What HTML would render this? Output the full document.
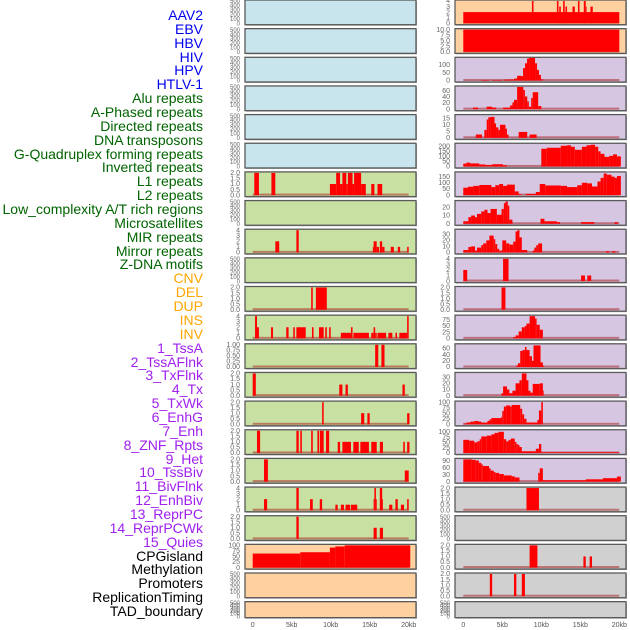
<!DOCTYPE html>
<html><head><meta charset="utf-8"><style>
html,body{margin:0;padding:0;background:#fff;}
#wrap{position:relative;width:630px;height:630px;overflow:hidden;}
.lab{position:absolute;right:427px;font-family:"Liberation Sans",sans-serif;font-size:14px;line-height:14px;white-space:nowrap;text-align:right;}
</style></head><body>
<div id="wrap">
<div id="labels"></div>
<svg id="chart" width="630" height="630" xmlns="http://www.w3.org/2000/svg" style="position:absolute;left:0;top:0"></svg>
</div>
<script>
// ---- data ----
const trackNames = ["AAV2","EBV","HBV","HIV","HPV","HTLV-1","Alu repeats","A-Phased repeats","Directed repeats","DNA transposons","G-Quadruplex forming repeats","Inverted repeats","L1 repeats","L2 repeats","Low_complexity A/T rich regions","Microsatellites","MIR repeats","Mirror repeats","Z-DNA motifs","CNV","DEL","DUP","INS","INV","1_TssA","2_TssAFlnk","3_TxFlnk","4_Tx","5_TxWk","6_EnhG","7_Enh","8_ZNF_Rpts","9_Het","10_TssBiv","11_BivFlnk","12_EnhBiv","13_ReprPC","14_ReprPCWk","15_Quies","CPGisland","Methylation","Promoters","ReplicationTiming","TAD_boundary"];
const trackGroups = [0,0,0,0,0,0,1,1,1,1,1,1,1,1,1,1,1,1,1,2,2,2,2,2,3,3,3,3,3,3,3,3,3,3,3,3,3,3,3,4,4,4,4,4];
const groupColors = ["#0000ee","#006400","#ffa500","#a020f0","#000000"];
const groupBg = ["#c8e4ec","#c8e0a2","#ffd0a0","#d6c6e2","#d0d0d0"];
const xTickLabels = ["0","5kb","10kb","15kb","20kb"];
const xTickValues = [0,5,10,15,20];

const T500 = ["0","100","200","300","400","500"];
const T2 = ["0.0","0.5","1.0","1.5","2.0"];
const T4 = ["0","1","2","3","4"];

// left column (22 panels): y-axis max, tick labels, segments [startKb,endKb,value]
const leftMax = [500,500,500,500,500,500,2,500,4,500,2,4,1,2,2,2,2,4,2,100,500,500];
const leftTicks = [T500,T500,T500,T500,T500,T500,T2,T500,T4,T500,T2,T4,["0.00","0.25","0.50","0.75","1.00"],T2,T2,T2,T2,T4,T2,["0","25","50","75","100"],T500,T500];
const leftSegs = [
 [],[],[],[],[],[],
 [[0.2,0.8,2],[2.4,2.9,2],[9.9,10.7,1],[10.7,11.2,2],[11.2,11.5,1],[11.5,12,2],[12,12.2,1],[12.2,12.8,2],[12.8,13,1],[13,13.5,2],[13.5,13.9,2],[13.9,14.5,1],[15.2,15.6,1],[16,16.6,1]],
 [],
 [[2.9,3.4,2],[5.6,5.9,4],[15.4,15.5,1],[15.5,15.9,2],[15.9,16.2,1],[16.3,16.6,2],[16.6,16.9,1],[17.7,18.1,1],[18.6,18.9,1],[19.8,20,1]],
 [],
 [[7.5,7.7,2],[8.1,9.5,2]],
 [[0.3,0.55,4],[0.55,0.8,2],[2.35,2.6,2],[4.3,4.6,2],[5.2,5.4,2],[5.6,6.8,2],[7.6,7.8,2],[8.5,9.1,2],[9.3,9.5,2],[9.8,10,2],[11.3,12.6,1],[12.6,12.8,2],[12.9,14.9,1],[15.2,15.5,1],[15.5,15.7,2],[15.7,15.9,1],[16,17.1,1],[17.4,17.9,1],[18.3,18.5,1],[18.8,19.8,1],[19.8,20,4]],
 [[15.7,16.1,1],[16.5,16.9,1]],
 [[0,0.4,2],[11.1,11.5,1],[11.9,12.2,1],[19.2,19.5,1]],
 [[8.9,9.1,2],[13.9,14.3,1],[14.7,15,1],[19.8,20.1,1]],
 [[0.55,0.95,2],[5.6,5.9,2],[6.1,6.3,2],[7.5,7.7,2],[8.3,8.5,2],[8.6,9.1,2],[9.4,9.8,2],[10.9,11.2,1],[11.5,12.6,1],[12.9,13.6,1],[13.8,14.9,1],[15.2,15.9,1],[16.3,16.7,1],[19.3,19.5,1],[19.8,20.1,1]],
 [[1.45,1.95,2],[19.5,20,1]],
 [[1.45,1.85,2],[5.6,5.9,4],[7.35,7.7,2],[8.6,8.9,2],[10.6,10.9,1],[11.3,11.7,1],[11.9,12.5,1],[12.6,13.4,1],[15.5,15.6,2],[15.6,15.8,4],[15.8,15.9,2],[16.3,16.6,4],[16.6,16.7,2],[17.5,17.9,1],[18.3,18.6,2],[19,19.4,1],[19.8,20,2]],
 [[5.6,5.9,2],[15.5,15.9,1],[16.3,16.7,1]],
 [[0,6.1,63],[6.1,9.9,69],[9.9,10.6,90],[10.6,11.8,95],[11.8,20.2,100]],
 [],[]
];

// right column (22 panels)
const rightMax = [4,10,142,72,17,220,180,27,37,4,2,90,72,36,100,105,97,2,500,2,2,500];
const rightTicks = [T4,["0.0","2.5","5.0","7.5","10.0"],["0","50","100"],["0","20","40","60"],["0","5","10","15"],["0","50","100","150","200"],["0","50","100","150"],["0","10","20"],["0","10","20","30"],T4,T2,["0","25","50","75"],["0","20","40","60"],["0","10","20","30"],["0","25","50","75","100"],["0","25","50","75","100"],["0","30","60","90"],T2,T500,T2,T2,T500];
const rightSegs = [
 [[0,20,2],[8.8,9,4],[12,12.2,4],[12.3,12.5,3],[12.8,13,4],[13.1,13.3,3],[14,14.3,3],[14.7,14.9,4],[15.45,15.7,4],[15.7,15.8,3],[16.3,16.6,3]],
 [[0,20,10]],
 [[2.3,3.3,3],[3.7,5,3],[5.2,5.5,5],[5.5,6.5,6],[6.5,6.9,12],[6.9,7.4,30],[7.4,7.66,28],[7.66,7.92,79],[7.92,8.17,110],[8.17,8.43,140],[8.43,9.2,145],[9.2,9.45,110],[9.45,9.7,68],[9.7,9.95,36],[9.95,10.2,8]],
 [[1.25,1.9,5],[3,3.7,8],[3.7,4.2,5],[5.1,6,5],[6,6.3,12],[6.3,6.5,22],[6.5,6.9,30],[6.9,7.7,72],[7.7,7.9,62],[7.9,8.2,41],[8.2,8.4,25],[8.4,8.7,8],[8.7,8.9,36],[8.9,9.6,55],[9.6,10,10]],
 [[1.6,2.4,2.5],[2.7,3,6],[3,3.2,14],[3.2,3.5,15.7],[3.5,4,16],[4,4.2,11],[4.2,4.5,8],[4.5,4.7,6],[4.7,5.4,10],[5.4,5.6,7],[5.6,5.8,2.5],[7.1,8.2,4.5],[8.5,9.4,2.5]],
 [[0,0.4,28],[0.4,0.9,38],[0.9,2.05,30],[2.05,2.8,20],[2.8,3.7,15],[3.7,5.1,22],[5.1,5.6,12],[10,10.7,175],[10.7,12.5,185],[12.5,13.3,205],[13.3,13.8,210],[13.8,14.3,195],[14.3,15.2,165],[15.2,15.8,195],[15.8,16.3,210],[16.3,16.9,215],[16.9,17.3,195],[17.3,17.6,150],[17.6,18.1,125],[18.1,18.7,95],[18.7,19.2,105],[19.2,19.7,120],[19.7,20.2,100]],
 [[0,0.6,60],[0.6,1.3,68],[1.3,2.05,75],[2.05,3.6,82],[3.6,4.1,65],[4.1,4.6,80],[4.6,5.1,90],[5.1,5.6,75],[5.6,6.6,85],[6.6,7.1,30],[7.1,7.4,8],[8,9.3,10],[9.3,9.8,25],[9.8,10.5,90],[10.5,12.5,78],[12.5,13.3,75],[13.3,14.6,65],[14.6,15.2,80],[15.2,15.9,100],[15.9,16.5,95],[16.5,17.2,70],[17.2,17.6,110],[17.6,18,140],[18,18.4,175],[18.4,19,165],[19,19.4,150],[19.4,19.7,140],[19.7,20.2,155]],
 [[0,0.65,3],[0.65,1,8],[1,1.5,10],[1.5,1.75,8],[1.75,2.3,12],[2.3,2.7,15],[2.7,3.1,17],[3.1,3.5,13],[3.5,4.3,18],[4.3,4.9,11],[4.9,5.2,18],[5.2,5.4,25],[5.4,5.7,27],[5.7,5.9,22],[5.9,6.3,5],[9.9,10.4,6],[10.4,10.7,3],[10.7,12,3],[12,12.4,2],[15.1,16.8,2],[19.4,19.8,2]],
 [[0,0.65,4],[0.65,1,9],[1,1.5,10],[1.5,1.75,3],[1.75,2.3,8],[2.3,2.55,12],[2.55,2.95,15],[2.95,3.35,20],[3.35,3.9,28],[3.9,4.1,22],[4.1,4.35,14],[4.35,4.6,6],[4.6,5,3],[5,5.5,20],[5.5,5.9,15],[5.9,6.4,13],[6.4,6.7,18],[6.7,6.95,35],[6.95,7.2,37],[7.2,7.5,25],[7.5,8.2,4],[8.9,9.1,3],[9.1,9.35,8],[9.35,9.6,12],[9.6,10.1,15],[18.3,18.7,2],[19.1,19.5,2]],
 [[0,0.5,2],[5.1,5.8,4],[15.1,15.6,1],[15.9,16.4,1]],
 [[4.9,5.4,2]],
 [[6.4,6.7,5],[6.7,7.1,12],[7.1,7.5,28],[7.5,7.9,45],[7.9,8.1,50],[8.1,8.5,60],[8.5,9.2,90],[9.2,9.4,80],[9.4,9.8,55],[9.8,10.2,35]],
 [[6.8,7,5],[7,7.3,12],[7.3,7.6,52],[7.6,7.9,55],[7.9,8.1,65],[8.1,8.5,55],[8.5,8.8,35],[8.8,9,20],[9,9.9,70],[9.9,10.2,15],[10.2,10.3,5]],
 [[4.9,5.1,4],[5.1,5.6,15],[5.6,5.9,10],[5.9,6.3,4],[6.3,6.7,8],[6.7,7.2,20],[7.2,7.5,25],[7.5,8.1,36],[8.1,8.35,25],[8.35,8.6,8],[8.6,8.9,5],[8.9,9.8,19],[9.8,10.2,20],[10.2,10.3,8]],
 [[0,0.4,3],[0.4,0.9,8],[0.9,1.4,12],[1.4,1.95,15],[1.95,2.3,12],[2.3,3.1,8],[3.1,3.35,15],[3.35,3.6,22],[3.6,4.9,28],[4.9,5,35],[5,5.2,60],[5.2,5.5,80],[5.5,6,85],[6,6.2,80],[6.2,7.3,87],[7.3,7.55,70],[7.55,7.8,45],[7.8,8.1,25],[8.1,9.5,8],[9.5,9.7,20],[9.7,10,62],[10,10.2,100]],
 [[0,0.75,62],[0.75,1.4,58],[1.4,1.8,50],[1.8,2.1,55],[2.1,2.3,65],[2.3,3,78],[3,3.6,82],[3.6,4,88],[4,4.5,95],[4.5,5.2,100],[5.2,5.5,65],[5.5,5.8,55],[5.8,6.1,62],[6.1,6.6,68],[6.6,6.8,52],[6.8,7,42],[7,7.2,38],[7.2,7.5,28],[7.5,9.3,8],[9.3,9.7,20],[9.7,10,42],[10,20,3]],
 [[0,1.1,97],[1.1,1.6,95],[1.6,2,92],[2,2.3,82],[2.3,2.5,75],[2.5,3.3,68],[3.3,3.5,58],[3.5,3.9,48],[3.9,4.1,42],[4.1,4.6,38],[4.6,5.2,33],[5.2,6.2,27],[6.2,6.6,23],[6.6,7.2,18],[9.6,9.8,38],[9.8,10.2,58],[10.2,15.7,6],[15.7,17.9,10],[17.9,19.7,15],[19.7,20.2,22]],
 [[8.1,9.7,2]],
 [],
 [[8.5,9.5,2],[15.4,15.7,1],[16.2,16.5,1]],
 [[3.4,3.7,2],[6.5,6.8,2],[7.5,7.9,2]],
 []
];
const leftRowGroup = [0,0,0,0,0,0,1,1,1,1,1,1,1,1,1,1,1,1,1,2,2,2];
const rightRowGroup = [2,2,3,3,3,3,3,3,3,3,3,3,3,3,3,3,3,4,4,4,4,4];

// ---- rendering ----
const NS = "http://www.w3.org/2000/svg";
const svg = document.getElementById("chart");
function mk(tag, attrs, parent){
  const e = document.createElementNS(NS, tag);
  for (const k in attrs) e.setAttribute(k, attrs[k]);
  (parent||svg).appendChild(e);
  return e;
}
// labels
const labWrap = document.getElementById("labels");
trackNames.forEach((n,i)=>{
  const d = document.createElement("div");
  d.className = "lab";
  d.style.top = (8 + i*13.86) + "px";
  d.style.color = groupColors[trackGroups[i]];
  d.textContent = n;
  
  
  labWrap.appendChild(d);
});

const ROWP = 28.65;
function xScaleFor(col){ const o = col ? 463.3 : 252.7; return kb => o + kb*7.8; }

function drawPanel(col,row,maxV,ticks,segs,group){
  const px = col ? 455 : 245, pw = 171;
  const py = row*ROWP, ph = row===21 ? 16 : 24.7;
  const g = mk("g",{});
  
  
  mk("rect",{x:px+1,y:py+1,width:pw,height:ph,fill:"#aaa"},g);
  mk("rect",{x:px,y:py,width:pw,height:ph,fill:groupBg[group],stroke:"#5a5a5a","stroke-width":1.3},g);
  const yb = py+ph-1.5, yt = py+1;
  const ys = v => yb - (v/maxV)*(yb-yt);
  const xs = xScaleFor(col);
  // ticks
  const n = ticks.length;
  ticks.forEach((t,k)=>{
    const v = maxV===500 ? k*100 : parseFloat(t);
    const tx = mk("text",{x:px-5,y:ys(v)+2.2,"font-size":n>5?6:7,"font-family":"Liberation Sans, sans-serif",fill:"#666","text-anchor":"end"},g);
    tx.textContent = t;
    
    
  });
  if (segs.length){
    const bl = mk("rect",{x:xs(0),y:yb-1.5,width:xs(20)-xs(0),height:2,fill:"rgba(170,40,40,0.55)"},g);
    
    
  }
  segs.forEach(s=>{
    const r = mk("rect",{x:xs(s[0]),y:ys(s[2]),width:Math.max(0.8,xs(s[1])-xs(s[0])),height:yb-ys(s[2]),fill:"#ff0000"},g);
    
    
  });
}
for (let r=0;r<22;r++){
  drawPanel(0,r,leftMax[r],leftTicks[r],leftSegs[r],leftRowGroup[r]);
  drawPanel(1,r,rightMax[r],rightTicks[r],rightSegs[r],rightRowGroup[r]);
}
// x axis labels
[0,1].forEach(col=>{
  const xs = xScaleFor(col);
  xTickValues.forEach((v,k)=>{
    const t = mk("text",{x:xs(v),y:627,"font-size":7,"font-family":"Liberation Sans, sans-serif",fill:"#555","text-anchor":"middle"});
    t.textContent = xTickLabels[k];
    
    
  });
});
</script>
</body></html>
